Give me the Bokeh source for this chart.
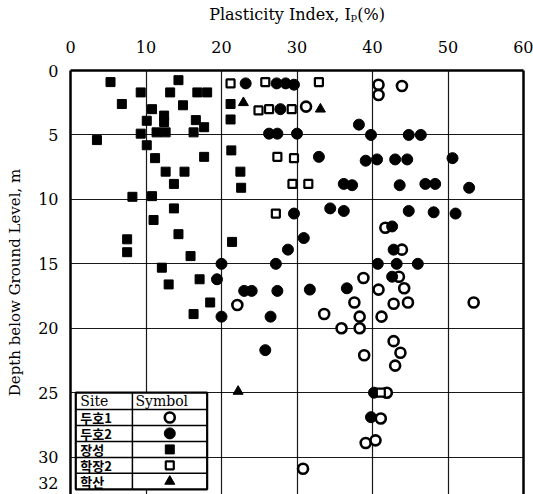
from bokeh.plotting import figure
from bokeh.models import FixedTicker, Range1d, LinearAxis
from bokeh.embed import file_html
from bokeh.resources import INLINE
from bokeh.core.properties import value

# ---------------- data ----------------
sites = ["두호1", "두호2", "장성", "학장2", "학산"]

# 두호1 (open circle)
pi_duho1 = [31.2, 40.8, 40.8, 43.9, 22.1, 41.7, 43.9, 38.8, 43.5, 44.2, 40.8, 37.6, 42.8, 44.7, 53.4,
            33.6, 38.3, 41.2, 35.9, 38.3, 42.8, 43.7, 38.9, 43.0, 41.9, 41.1, 39.1, 40.4, 30.8]
d_duho1 = [2.8, 1.1, 1.9, 1.2, 18.2, 12.2, 13.9, 16.1, 16.0, 16.9, 17.0, 18.0, 18.1, 18.0, 18.0,
           18.9, 19.1, 19.1, 20.0, 20.0, 21.0, 21.9, 22.1, 22.9, 25.0, 27.0, 28.9, 28.7, 30.9]

# 두호2 (filled circle)
pi_duho2 = [23.2, 27.3, 28.5, 29.6, 27.8, 38.2, 26.3, 27.4, 30.0, 39.8, 44.8, 46.4, 32.9, 39.1, 40.6,
            43.0, 44.6, 50.6, 36.2, 37.3, 43.6, 47.0, 48.3, 52.8, 29.6, 34.4, 36.2, 44.8, 48.1, 51.0,
            42.6, 30.9, 28.8, 42.8, 20.0, 27.2, 40.7, 43.2, 46.0, 19.4, 42.6, 23.0, 24.0, 27.4, 31.7,
            36.6, 20.0, 26.5, 25.8, 40.2, 39.8]
d_duho2 = [1.0, 1.0, 1.0, 1.1, 3.0, 4.2, 4.9, 4.9, 4.9, 5.0, 5.0, 5.0, 6.7, 7.0, 6.9,
           6.9, 6.9, 6.8, 8.8, 8.9, 8.9, 8.8, 8.8, 9.1, 11.1, 10.7, 10.9, 10.9, 11.0, 11.1,
           12.1, 13.0, 13.9, 13.9, 15.0, 15.0, 15.0, 15.0, 15.0, 16.2, 16.0, 17.1, 17.1, 17.1, 17.0,
           16.9, 19.1, 19.1, 21.7, 25.0, 26.9]

# 장성 (filled square)
pi_jangseong = [5.3, 14.3, 9.3, 13.2, 16.8, 18.1, 6.8, 14.9, 10.8, 10.1, 12.4, 12.4, 16.6, 17.7, 9.3,
                11.4, 12.6, 16.3, 3.5, 10.1, 11.2, 17.7, 21.3, 12.6, 15.1, 22.5, 13.7, 22.6, 21.2, 21.2,
                8.2, 10.8, 13.7, 11.0, 14.3, 7.5, 7.5, 15.9, 21.4, 12.1, 13.0, 17.1, 18.5, 16.3]
d_jangseong = [0.9, 0.75, 1.7, 1.7, 1.7, 1.7, 2.6, 2.7, 3.0, 3.9, 3.5, 4.0, 3.85, 4.4, 4.9,
               4.8, 4.8, 4.8, 5.4, 5.8, 6.8, 6.7, 6.2, 7.85, 7.85, 7.85, 8.8, 9.1, 2.6, 3.8,
               9.8, 9.75, 10.7, 11.6, 12.7, 13.1, 14.1, 14.4, 13.3, 15.3, 16.6, 16.2, 18.0, 18.9]

# 학장2 (open square)
pi_hakjang2 = [21.2, 25.8, 32.9, 24.9, 26.3, 29.3, 27.4, 29.6, 29.4, 31.5, 27.2, 41.1]
d_hakjang2 = [1.0, 0.9, 0.9, 3.1, 3.0, 3.0, 6.7, 6.8, 8.8, 8.8, 11.1, 25.0]

# 학산 (triangle)
pi_haksan = [22.9, 33.1, 22.2]
d_haksan = [2.5, 3.0, 24.9]

x_ticks = [0, 10, 20, 30, 40, 50, 60]
y_ticks = [0, 5, 10, 15, 20, 25, 30, 32]

SERIF = "DejaVu Serif"

p = figure(width=533, height=494, x_range=Range1d(0, 60), y_range=Range1d(32.9, 0),
           x_axis_location="above", output_backend="svg", toolbar_location=None,
           min_border_left=70, min_border_right=10, min_border_top=70, min_border_bottom=0,
           background_fill_color="white", border_fill_color="white")

p.outline_line_color = None

# right border drawn as an unlabeled axis (no bottom border, as in the cropped original)
ra = LinearAxis(ticker=FixedTicker(ticks=[]), major_tick_line_color=None, minor_tick_line_color=None,
                axis_line_color="black", axis_line_width=2.5, major_label_text_font_size="0px")
p.add_layout(ra, "right")

# axes
xa = p.xaxis[0]
xa.ticker = FixedTicker(ticks=x_ticks)
xa.axis_label = "Plasticity Index, I\u209a(%)"
ya = p.yaxis[0]
ya.ticker = FixedTicker(ticks=y_ticks)
ya.axis_label = "Depth below Ground Level, m"
for ax in (xa, ya):
    ax.major_tick_line_color = None
    ax.minor_tick_line_color = None
    ax.axis_line_color = "black"
    ax.axis_line_width = 2.5
    ax.major_label_text_font = SERIF
    ax.major_label_text_font_size = "16px"
    ax.major_label_text_color = "black"
    ax.axis_label_text_font = SERIF
    ax.axis_label_text_font_size = "15px"
    ax.axis_label_text_font_style = "normal"
    ax.axis_label_text_color = "black"
xa.axis_label_text_font_size = "16px"
xa.major_label_standoff = 12
xa.axis_label_standoff = 14
ya.major_label_standoff = 6
ya.axis_label_standoff = 11

# grid
p.xgrid.ticker = FixedTicker(ticks=[10, 20, 30, 40, 50])
p.ygrid.ticker = FixedTicker(ticks=[5, 10, 15, 20, 25, 30])
for g in (p.xgrid, p.ygrid):
    g.grid_line_color = "black"
    g.grid_line_width = 1.2
    g.grid_line_alpha = 0.9

# data markers
styles = {
    "두호1": dict(marker="circle", size=10, fill_color="white", line_color="black", line_width=2.6),
    "두호2": dict(marker="circle", size=11, fill_color="black", line_color="black", line_width=1),
    "장성": dict(marker="square", size=9, fill_color="black", line_color="black", line_width=1),
    "학장2": dict(marker="square", size=8, fill_color="white", line_color="black", line_width=2.2),
    "학산": dict(marker="triangle", size=10, fill_color="black", line_color="black", line_width=1),
}
series = [(pi_duho1, d_duho1), (pi_duho2, d_duho2), (pi_jangseong, d_jangseong),
          (pi_hakjang2, d_hakjang2), (pi_haksan, d_haksan)]
for name, (xs, ys) in zip(sites, series):
    p.scatter(xs, ys, **styles[name])

# legend table
lx0, lxm, lx1 = 0.7, 8.2, 18.1
ly0 = 25.0
hdr = 1.3
rh = 1.24
row_edges = [ly0 + hdr + i * rh for i in range(len(sites) + 1)]
ly1 = row_edges[-1]
p.quad(left=[lx0], right=[lx1], top=[ly0], bottom=[ly1], fill_color="white",
       line_color="black", line_width=2.2)
p.segment(x0=[lxm], y0=[ly0], x1=[lxm], y1=[ly1], line_color="black", line_width=1.5)
p.segment(x0=[lx0] * (len(row_edges) - 1), y0=row_edges[:-1], x1=[lx1] * (len(row_edges) - 1),
          y1=row_edges[:-1], line_color="black", line_width=1.5)
p.text(x=[lx0 + 0.6, lxm + 0.4], y=[ly0 + hdr / 2] * 2, text=["Site", "Symbol"],
       text_font=value(SERIF), text_font_size="14px", text_baseline="middle", text_align="left",
       text_color="black")
centers = [row_edges[i] + rh / 2 for i in range(len(sites))]
p.text(x=[lx0 + 0.6] * len(sites), y=centers, text=sites, text_font=value("Noto Sans CJK KR"),
       text_font_size="13px", text_font_style="bold", text_baseline="middle", text_align="left",
       text_color="black")
sym_x = (lxm + lx1) / 2
for name, cy in zip(sites, centers):
    p.scatter([sym_x], [cy], **styles[name])

open("out.html", "w").write(file_html(p, INLINE))
